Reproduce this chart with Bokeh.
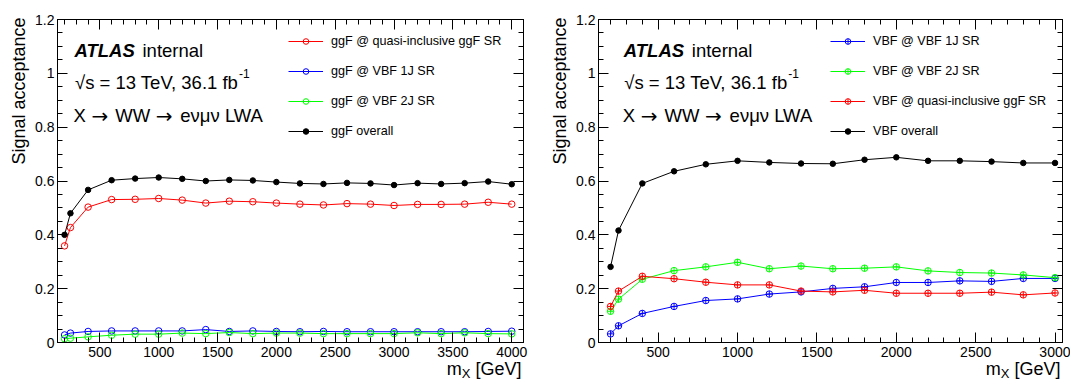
import math
from bokeh.plotting import figure
from bokeh.models import (Range1d, LinearAxis, FixedTicker, NumeralTickFormatter,
                          CustomJSTickFormatter, Label, Legend, LegendItem, Title)
from bokeh.layouts import row
from bokeh.embed import file_html
from bokeh.resources import INLINE

# ---------------- data ----------------
mass_ggf = [200, 250, 400, 600, 800, 1000, 1200, 1400, 1600, 1800, 2000,
            2200, 2400, 2600, 2800, 3000, 3200, 3400, 3600, 3800, 4000]
ggf_quasi = [0.359, 0.427, 0.503, 0.531, 0.532, 0.535, 0.529, 0.518, 0.525, 0.523, 0.518,
             0.514, 0.511, 0.516, 0.514, 0.509, 0.513, 0.513, 0.514, 0.521, 0.514]
ggf_vbf1j = [0.028, 0.035, 0.041, 0.043, 0.043, 0.043, 0.043, 0.048, 0.041, 0.043, 0.041,
             0.040, 0.041, 0.040, 0.040, 0.040, 0.040, 0.040, 0.040, 0.041, 0.042]
ggf_vbf2j = [0.014, 0.016, 0.021, 0.027, 0.031, 0.031, 0.035, 0.033, 0.037, 0.033, 0.035,
             0.035, 0.033, 0.033, 0.033, 0.033, 0.036, 0.033, 0.036, 0.033, 0.032]
ggf_overall = [0.400, 0.480, 0.567, 0.603, 0.609, 0.613, 0.608, 0.600, 0.604, 0.602, 0.596,
               0.591, 0.589, 0.593, 0.591, 0.585, 0.592, 0.589, 0.592, 0.598, 0.588]

mass_vbf = [200, 250, 400, 600, 800, 1000, 1200, 1400, 1600, 1800, 2000,
            2200, 2400, 2600, 2800, 3000]
vbf_vbf1j = [0.032, 0.062, 0.108, 0.134, 0.156, 0.162, 0.180, 0.188, 0.201, 0.207, 0.223,
             0.223, 0.229, 0.227, 0.238, 0.238]
vbf_vbf2j = [0.116, 0.161, 0.235, 0.267, 0.281, 0.298, 0.274, 0.284, 0.274, 0.276, 0.281,
             0.266, 0.260, 0.258, 0.251, 0.241]
vbf_quasi = [0.134, 0.191, 0.246, 0.237, 0.224, 0.214, 0.214, 0.191, 0.188, 0.194, 0.183,
             0.183, 0.183, 0.187, 0.177, 0.184]
vbf_overall = [0.281, 0.416, 0.591, 0.636, 0.662, 0.675, 0.669, 0.665, 0.664, 0.679, 0.688,
               0.675, 0.675, 0.672, 0.667, 0.667]

x_ticks_left = [500, 1000, 1500, 2000, 2500, 3000, 3500, 4000]
x_ticks_right = [500, 1000, 1500, 2000, 2500, 3000]
y_ticks = [0, 0.2, 0.4, 0.6, 0.8, 1.0, 1.2]

labels_left = ["ggF @ quasi-inclusive ggF SR", "ggF @ VBF 1J SR", "ggF @ VBF 2J SR", "ggF overall"]
labels_right = ["VBF @ VBF 1J SR", "VBF @ VBF 2J SR", "VBF @ quasi-inclusive ggF SR", "VBF overall"]
y_title = "Signal acceptance"
x_title_parts = ["m", "X", "[GeV]"]
process_parts = ["X", "\u2192", "WW", "\u2192", "e\u03bd\u03bc\u03bd LWA"]

FONT = "Liberation Sans"
RED, BLUE, GREEN, BLACK = "#ff0000", "#0000ff", "#00ff00", "#000000"

x_minor_left = list(range(200, 4100, 100))
x_minor_right = list(range(200, 3100, 100))
y_minor = [round(0.05 * i, 2) for i in range(0, 25)]


def style_axis(ax, ticks, minor, labels=True):
    ax.ticker = FixedTicker(ticks=ticks, minor_ticks=minor)
    ax.major_tick_in = 10
    ax.major_tick_out = 0
    ax.minor_tick_in = 5
    ax.minor_tick_out = 0
    ax.major_tick_line_color = "black"
    ax.minor_tick_line_color = "black"
    ax.axis_line_color = "black"
    ax.major_label_text_font = FONT
    ax.major_label_text_font_size = "14px"
    ax.major_label_text_color = "black"
    if not labels:
        ax.formatter = CustomJSTickFormatter(code="return ''")


def text_axis(p, place, ticks, code, size, standoff, orientation=None):
    ax = LinearAxis(ticker=FixedTicker(ticks=ticks, minor_ticks=[]),
                    formatter=CustomJSTickFormatter(code=code))
    ax.axis_line_color = None
    ax.major_tick_line_color = None
    ax.minor_tick_line_color = None
    ax.major_tick_in = 0
    ax.major_tick_out = 0
    ax.minor_tick_in = 0
    ax.minor_tick_out = 0
    ax.major_label_standoff = standoff
    ax.major_label_text_font = FONT
    ax.major_label_text_font_size = size
    ax.major_label_text_color = "black"
    if orientation is not None:
        ax.major_label_orientation = orientation
    p.add_layout(ax, place)


def make_fig(xr, bl, br):
    p = figure(width=535, height=383, x_range=Range1d(*xr), y_range=Range1d(0, 1.2),
               output_backend="svg", toolbar_location=None,
               min_border_left=bl, min_border_right=br, min_border_top=19, min_border_bottom=41)
    p.xgrid.visible = False
    p.ygrid.visible = False
    p.outline_line_color = "black"
    p.outline_line_width = 1
    p.background_fill_color = "white"
    p.border_fill_color = "white"
    return p


def add_axes(p, xt, xminor):
    style_axis(p.xaxis[0], xt, xminor)
    p.xaxis[0].major_label_standoff = 4
    style_axis(p.yaxis[0], y_ticks, y_minor)
    p.yaxis[0].formatter = NumeralTickFormatter(format="0.[0]")
    p.yaxis[0].major_label_standoff = 3
    top = LinearAxis()
    style_axis(top, xt, xminor, labels=False)
    p.add_layout(top, "above")
    right = LinearAxis()
    style_axis(right, y_ticks, y_minor, labels=False)
    p.add_layout(right, "right")


def add_titles(p, fl, fw, xr, x_end):
    def xd(px):
        return xr[0] + (px - fl) / fw * (xr[1] - xr[0])
    p.add_layout(Title(text=y_title, align="right", text_font=FONT, text_font_size="18px",
                       text_font_style="normal", text_color="black", offset=-2, standoff=7),
                 "left")
    x_m = xd(x_end - 59.7 - 7.5)
    x_g = xd(x_end - 23)
    x_x = xd(x_end - 51 - 4.35)
    mid = 0.5 * (x_m + x_g)
    text_axis(p, "below", [x_m, x_g],
              "return tick < %f ? '%s' : '%s'" % (mid, x_title_parts[0], x_title_parts[2]),
              "18px", -1)
    text_axis(p, "below", [x_x], "return '%s'" % x_title_parts[1], "13px", -16)


def add_series(p, xs, ys, color, marker, filled=False):
    ln = p.line(xs, ys, line_color=color, line_width=1)
    if filled:
        sc = p.scatter(xs, ys, marker=marker, size=5.5, fill_color=color, line_color=color)
    else:
        sc = p.scatter(xs, ys, marker=marker, size=6.5, fill_color=None, line_color=color,
                       line_width=1)
    return [ln, sc]


def add_legend(p, items, loc):
    leg = Legend(items=[LegendItem(label=l, renderers=r) for l, r in items], location=loc,
                 glyph_width=35, glyph_height=14, label_height=14, spacing=16, padding=0,
                 margin=0, label_standoff=8, label_text_font=FONT, label_text_font_size="12.6px",
                 label_text_color="black", border_line_color=None, background_fill_alpha=0)
    p.add_layout(leg)


def add_texts(p, fl, fw, xr, x0):
    def xd(px):
        return xr[0] + (px - fl) / fw * (xr[1] - xr[0])

    def yd(py):
        return 1.2 * (342 - py) / 323.0

    def lab(px, py, text, size, style="normal", font=FONT):
        p.add_layout(Label(x=xd(x0 + px), y=yd(py), text=text, text_font=font,
                           text_font_size=size, text_font_style=style, text_align="left",
                           text_baseline="alphabetic", text_color="black"))

    lab(1.0, 50, "ATLAS", "18.5px", "bold italic")
    lab(69.0, 50, "internal", "18.5px")
    lab(1.5, 82, "\u221as = 13 TeV, 36.1 fb", "18.5px")
    lab(165.5, 73, "-1", "12px")
    lab(0.0, 115, process_parts[0], "18.5px")
    lab(18.0, 115, process_parts[1], "20px", font="DejaVu Sans")
    lab(41.7, 115, process_parts[2], "18.5px")
    lab(82.3, 115, process_parts[3], "20px", font="DejaVu Sans")
    lab(106.8, 115, process_parts[4], "18.5px")


# ---------------- left plot ----------------
xr_l = (140, 4100)
p1 = make_fig(xr_l, 57, 12)
add_axes(p1, x_ticks_left, x_minor_left)
add_titles(p1, 57, 466, xr_l, 521)
r_q = add_series(p1, mass_ggf, ggf_quasi, RED, "circle")
r_1 = add_series(p1, mass_ggf, ggf_vbf1j, BLUE, "circle")
r_2 = add_series(p1, mass_ggf, ggf_vbf2j, GREEN, "circle")
r_o = add_series(p1, mass_ggf, ggf_overall, BLACK, "circle", filled=True)
add_legend(p1, list(zip(labels_left, [r_q, r_1, r_2, r_o])), (231, 204))
add_texts(p1, 57, 466, xr_l, 73.0)

# ---------------- right plot ----------------
xr_r = (124, 3047)
p2 = make_fig(xr_r, 63, 8)
add_axes(p2, x_ticks_right, x_minor_right)
add_titles(p2, 63, 464, xr_r, 1060 - 535)
s_1 = add_series(p2, mass_vbf, vbf_vbf1j, BLUE, "circle_cross")
s_2 = add_series(p2, mass_vbf, vbf_vbf2j, GREEN, "circle_cross")
s_q = add_series(p2, mass_vbf, vbf_quasi, RED, "circle_cross")
s_o = add_series(p2, mass_vbf, vbf_overall, BLACK, "circle", filled=True)
add_legend(p2, list(zip(labels_right, [s_1, s_2, s_q, s_o])), (232, 204))
add_texts(p2, 63, 464, xr_r, 622.3 - 535)

layout = row(p1, p2)
open("out.html", "w").write(file_html(layout, INLINE))
